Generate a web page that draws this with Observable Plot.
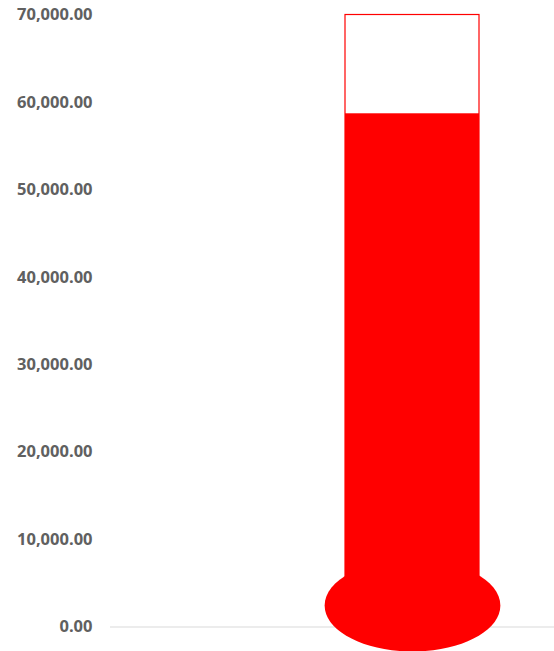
<!DOCTYPE html>
<html>
<head>
<meta charset="utf-8">
<script src="https://cdn.jsdelivr.net/npm/d3@7"></script>
<script src="https://cdn.jsdelivr.net/npm/@observablehq/plot@0.6"></script>
<style>
  html, body { margin: 0; padding: 0; background: #fff; }
  #chart svg { display: block; }
</style>
</head>
<body>
<div id="chart"></div>
<script>
// Data
const categories = ["Progress"];
const goalValues = [70000];
const actualValues = [58700];
const bulbValues = [2460];
const yTicks = [0, 10000, 20000, 30000, 40000, 50000, 60000, 70000];

const rows = categories.map((c, i) => ({
  category: c,
  goal: goalValues[i],
  actual: actualValues[i],
  bulb: bulbValues[i]
}));

// Elliptical symbol for the thermometer bulb
const ellipseSymbol = {
  draw(ctx, size) {
    const r = Math.sqrt(size / Math.PI);
    const rx = r * 1.91, ry = r, k = 0.5523;
    ctx.moveTo(rx, 0);
    ctx.bezierCurveTo(rx, ry * k, rx * k, ry, 0, ry);
    ctx.bezierCurveTo(-rx * k, ry, -rx, ry * k, -rx, 0);
    ctx.bezierCurveTo(-rx, -ry * k, -rx * k, -ry, 0, -ry);
    ctx.bezierCurveTo(rx * k, -ry, rx, -ry * k, rx, 0);
    ctx.closePath();
  }
};

const chart = Plot.plot({
  width: 554,
  height: 651,
  marginLeft: 110,
  marginRight: 0,
  marginTop: 14.5,
  marginBottom: 24.5,
  style: { fontFamily: "'Open Sans', sans-serif", background: "#fff" },
  x: { type: "band", domain: categories, padding: 0.5363, align: 0.758, axis: null },
  y: { domain: [0, 70000], axis: null },
  marks: [
    Plot.ruleY([0], { stroke: "#d9d9d9", strokeWidth: 1.2 }),
    Plot.axisY({
      ticks: yTicks,
      tickFormat: d3.format(",.2f"),
      tickSize: 0,
      tickPadding: 18,
      label: null,
      fontWeight: "bold",
      fontSize: 16.5,
      fill: "#606060"
    }),
    Plot.barY(rows, { x: "category", y: "goal", fill: "#fff", stroke: "#ff0000", strokeWidth: 1.2 }),
    Plot.barY(rows, { x: "category", y: "actual", fill: "#ff0000" }),
    Plot.dot(rows, { x: "category", y: "bulb", r: 46, symbol: ellipseSymbol, fill: "#ff0000", stroke: "none" })
  ]
});

document.getElementById("chart").append(chart);
</script>
</body>
</html>
